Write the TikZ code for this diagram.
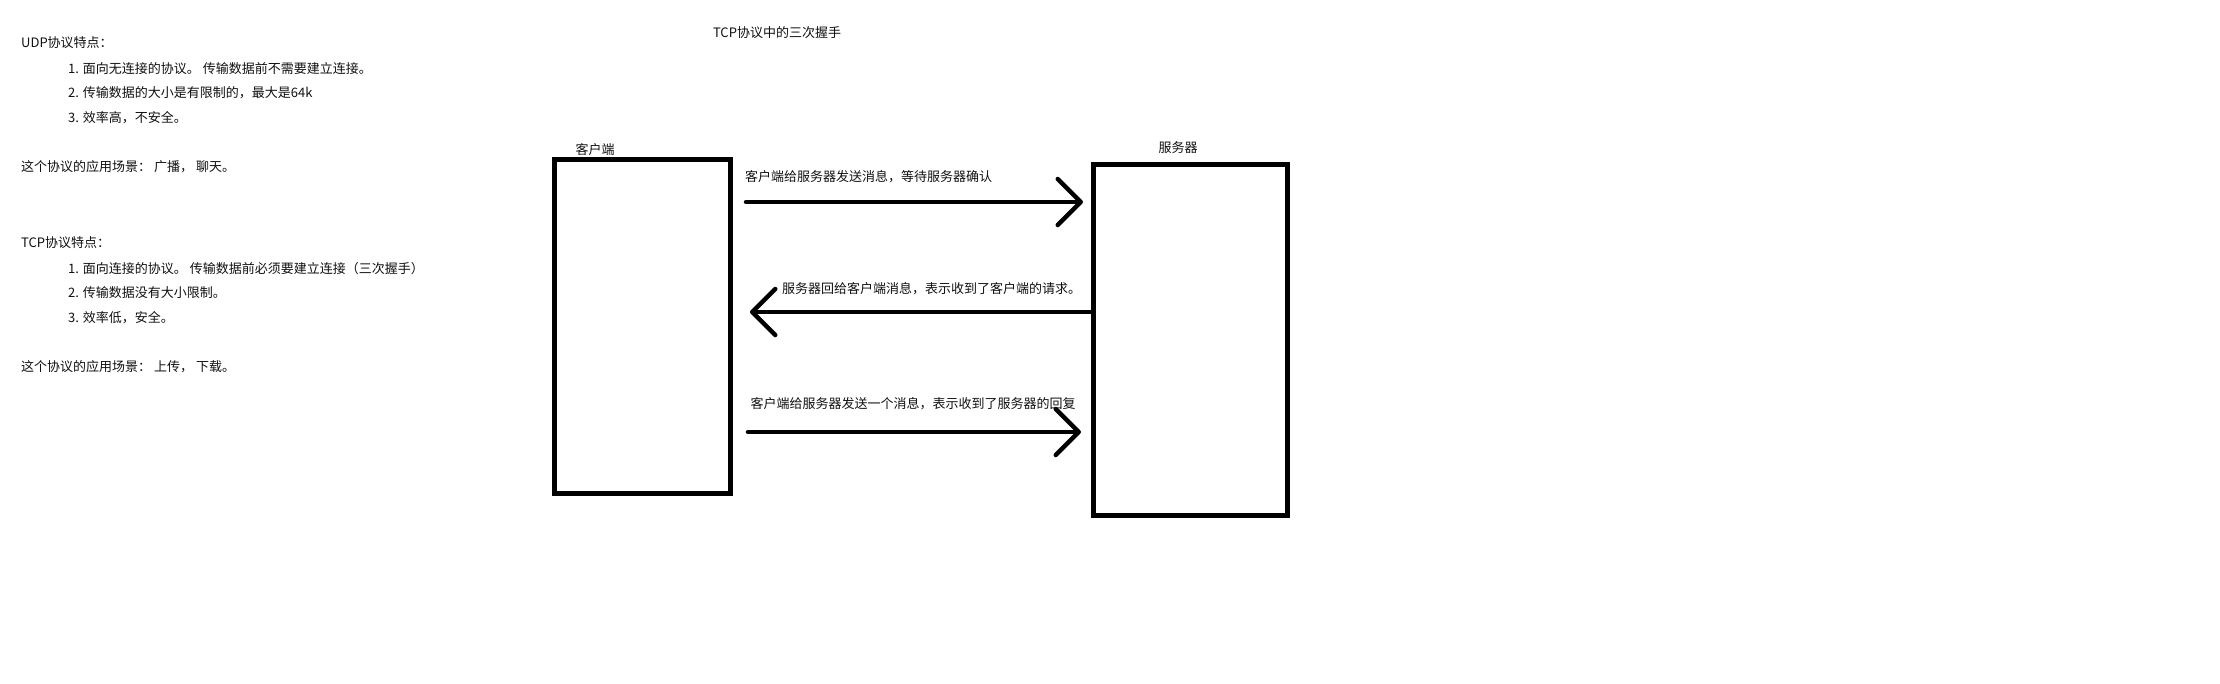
\documentclass[tikz,border=0pt]{standalone}
\usepackage{fontspec}
\usetikzlibrary{arrows.meta, positioning, calc}
\newfontfamily\cjk{Noto Sans CJK SC}
\definecolor{hsInk}{HTML}{000000}
\definecolor{hsText}{HTML}{111111}
\tikzset{
  hsbox/.style={rectangle, draw=hsInk, line width=5pt, fill=white, inner sep=0pt},
  hstext/.style={font=\cjk\fontsize{13}{16}\selectfont, text=hsText, inner sep=0pt},
  hsarrow/.style={-{Straight Barb[length=23pt, width=46pt, round]}, line width=4.5pt, line cap=round, hsInk}
}

\begin{document}
\begin{tikzpicture}[x=1pt, y=-1pt]
    \fill[white] (0,0) rectangle (2220,683);
    \useasboundingbox (0,0) rectangle (2220,683);

    % notes on the left
    \foreach \n/\x/\y/\txt in {
        udpHead/21/43/{UDP协议特点：},
        udpA/68/69/{1. 面向无连接的协议。 传输数据前不需要建立连接。},
        udpB/68/93/{2. 传输数据的大小是有限制的，最大是64k},
        udpC/68/118/{3. 效率高，不安全。},
        udpUse/21/167/{这个协议的应用场景： 广播， 聊天。},
        tcpHead/21/243/{TCP协议特点：},
        tcpA/68/269/{1. 面向连接的协议。 传输数据前必须要建立连接（三次握手）},
        tcpB/68/293/{2. 传输数据没有大小限制。},
        tcpC/68/318/{3. 效率低，安全。},
        tcpUse/21/367/{这个协议的应用场景： 上传， 下载。}
      }{
        \node[hstext, anchor=west] (\n) at (\x,\y) {\txt};
      }

    \node[hstext] (title) at (777,33) {TCP协议中的三次握手};

    % the two parties
    \node[hsbox, minimum width=176pt, minimum height=334pt] (client) at (642.5,326.5) {};
    \node[hsbox, minimum width=194pt, minimum height=351pt] (server) at (1190.5,340) {};
    \node[hstext] (clientLbl) at (595,150) {客户端};
    \node[hstext] (serverLbl) at (1178,148) {服务器};

    % three messages
    \coordinate (syn) at (746,202);
    \coordinate (synAck) at (750,312);
    \coordinate (ack) at (748,432);
    \draw[hsarrow, shorten >=8pt] (syn) -- (server.west |- syn);
    \draw[hsarrow] (server.west |- synAck) -- (synAck);
    \draw[hsarrow, shorten >=10pt] (ack) -- (server.west |- ack);

    \node[hstext, anchor=west] (synLbl) at (745,177) {客户端给服务器发送消息，等待服务器确认};
    \node[hstext, anchor=west] (synAckLbl) at (782,289) {服务器回给客户端消息，表示收到了客户端的请求。};
    \node[hstext] (ackLbl) at (913,404) {客户端给服务器发送一个消息，表示收到了服务器的回复};
  \end{tikzpicture}
\end{document}
